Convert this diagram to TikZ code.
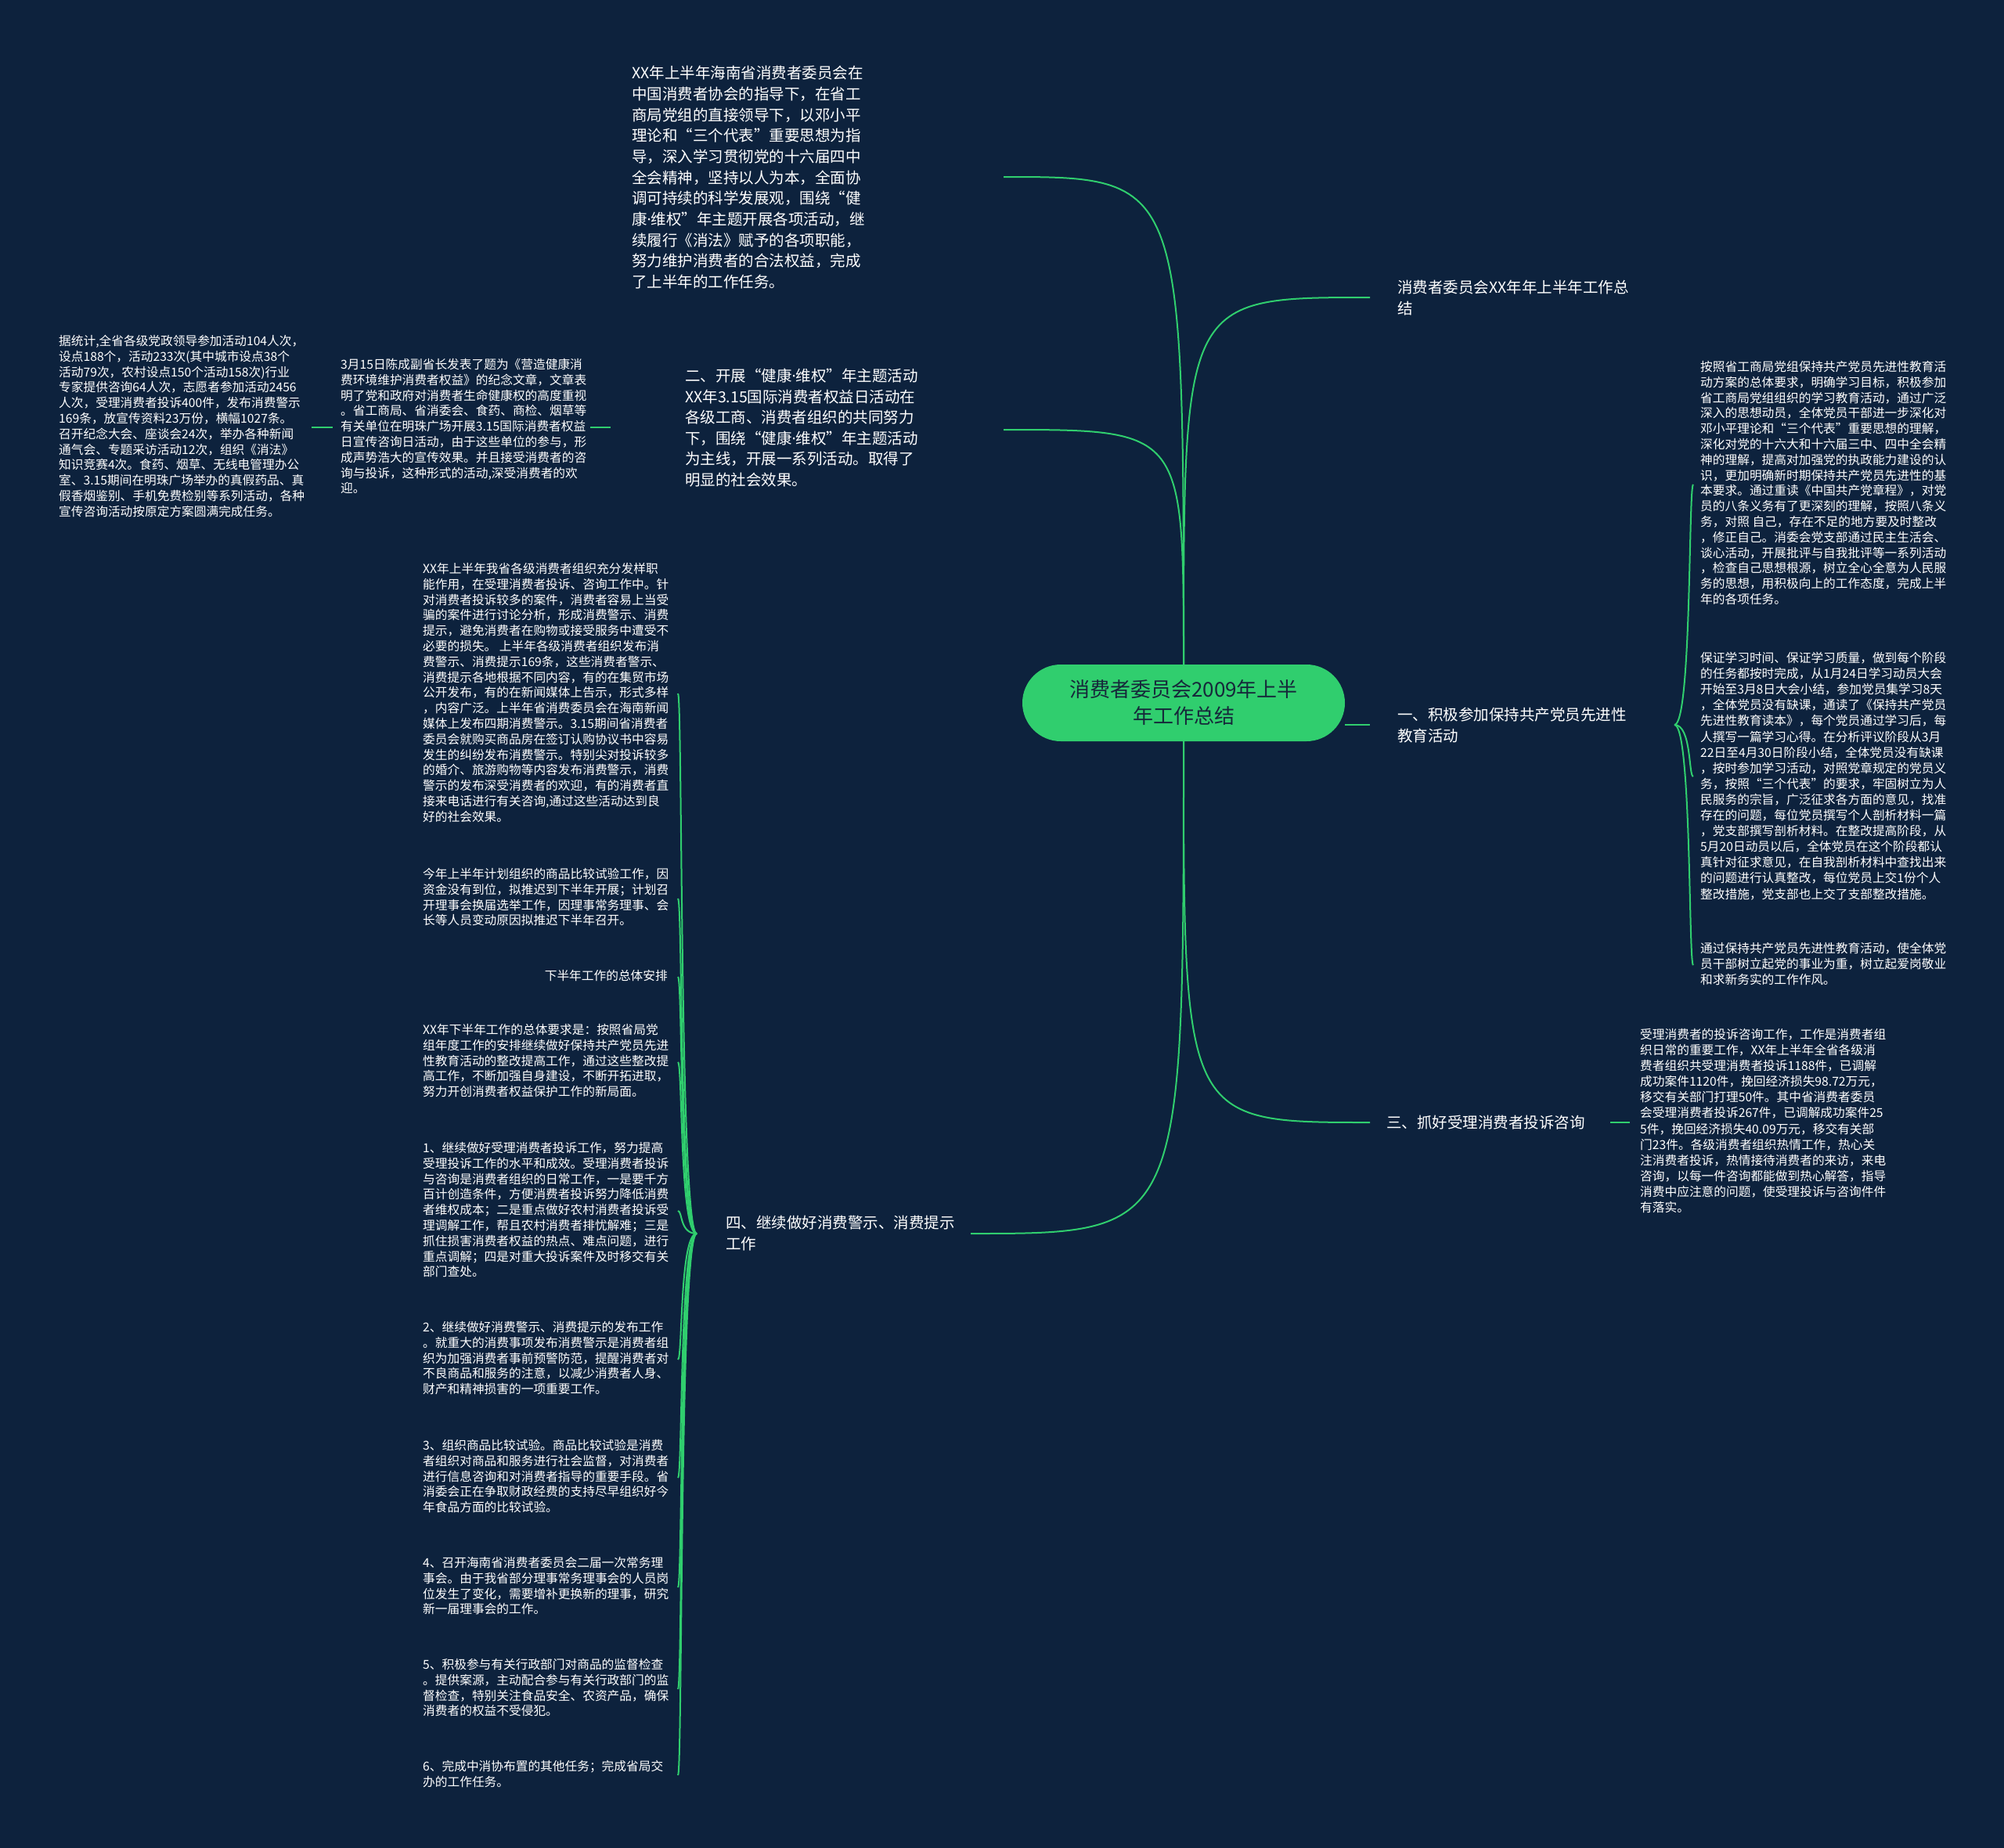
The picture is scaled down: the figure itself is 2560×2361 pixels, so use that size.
\documentclass[tikz,border=0pt]{standalone}
\usepackage{fontspec}
\setmainfont{Noto Sans CJK SC}
\newfontfamily\dotfont{Noto Sans}
\newcommand\mdot{{\dotfont ·}}
\usetikzlibrary{calc}
\definecolor{MapBg}{RGB}{13,34,61}
\definecolor{MapGreen}{RGB}{48,206,110}
\definecolor{RootInk}{RGB}{22,40,58}

\begin{document}
\begin{tikzpicture}[x=1pt,y=-1pt,
  root/.style={fill=MapGreen,rounded corners=49pt,minimum width=412pt,minimum height=98pt,inner sep=0pt,text=RootInk,align=center,font=\fontsize{26}{34}\selectfont},
  branch/.style={anchor=north west,inner sep=0pt,align=left,text=white,font=\fontsize{19.5}{26.5}\selectfont},
  leaf/.style={anchor=north west,inner sep=0pt,align=left,text=white,font=\fontsize{15.7}{19.8}\selectfont},
  link/.style={draw=MapGreen,line width=2pt}]
\fill[MapBg] (0,0) rectangle (2560,2361);
\useasboundingbox (0,0) rectangle (2560,2361);

\node[root] (root) at (1512,898) {消费者委员会2009年上半\\年工作总结};

% left side
\node[branch,font=\fontsize{19.5}{26.7}\selectfont] (intro) at (807,84) {XX年上半年海南省消费者委员会在\\中国消费者协会的指导下，在省工\\商局党组的直接领导下，以邓小平\\理论和“三个代表”重要思想为指\\导，深入学习贯彻党的十六届四中\\全会精神，坚持以人为本，全面协\\调可持续的科学发展观，围绕“健\\康\mdot 维权”年主题开展各项活动，继\\续履行《消法》赋予的各项职能，\\努力维护消费者的合法权益，完成\\了上半年的工作任务。};
\node[branch] (two) at (875,471) {二、开展“健康\mdot 维权”年主题活动\\XX年3.15国际消费者权益日活动在\\各级工商、消费者组织的共同努力\\下，围绕“健康\mdot 维权”年主题活动\\为主线，开展一系列活动。取得了\\明显的社会效果。};
\node[leaf] (two-a) at (435,458) {3月15日陈成副省长发表了题为《营造健康消\\费环境维护消费者权益》的纪念文章，文章表\\明了党和政府对消费者生命健康权的高度重视\\。省工商局、省消委会、食药、商检、烟草等\\有关单位在明珠广场开展3.15国际消费者权益\\日宣传咨询日活动，由于这些单位的参与，形\\成声势浩大的宣传效果。并且接受消费者的咨\\询与投诉，这种形式的活动,深受消费者的欢\\迎。};
\node[leaf] (two-b) at (75,428) {据统计,全省各级党政领导参加活动104人次，\\设点188个，活动233次(其中城市设点38个\\活动79次，农村设点150个活动158次)行业\\专家提供咨询64人次，志愿者参加活动2456\\人次，受理消费者投诉400件，发布消费警示\\169条，放宣传资料23万份，横幅1027条。\\召开纪念大会、座谈会24次，举办各种新闻\\通气会、专题采访活动12次，组织《消法》\\知识竞赛4次。食药、烟草、无线电管理办公\\室、3.15期间在明珠广场举办的真假药品、真\\假香烟鉴别、手机免费检别等系列活动，各种\\宣传咨询活动按原定方案圆满完成任务。};

\node[branch] (four) at (927,1553) {四、继续做好消费警示、消费提示\\工作};
\node[leaf] (w1) at (540,719) {XX年上半年我省各级消费者组织充分发样职\\能作用，在受理消费者投诉、咨询工作中。针\\对消费者投诉较多的案件，消费者容易上当受\\骗的案件进行讨论分析，形成消费警示、消费\\提示，避免消费者在购物或接受服务中遭受不\\必要的损失。 上半年各级消费者组织发布消\\费警示、消费提示169条，这些消费者警示、\\消费提示各地根据不同内容，有的在集贸市场\\公开发布，有的在新闻媒体上告示，形式多样\\，内容广泛。上半年省消费委员会在海南新闻\\媒体上发布四期消费警示。3.15期间省消费者\\委员会就购买商品房在签订认购协议书中容易\\发生的纠纷发布消费警示。特别尖对投诉较多\\的婚介、旅游购物等内容发布消费警示，消费\\警示的发布深受消费者的欢迎，有的消费者直\\接来电话进行有关咨询,通过这些活动达到良\\好的社会效果。};
\node[leaf] (w2) at (540,1109) {今年上半年计划组织的商品比较试验工作，因\\资金没有到位，拟推迟到下半年开展；计划召\\开理事会换届选举工作，因理事常务理事、会\\长等人员变动原因拟推迟下半年召开。};
\node[leaf,anchor=north east] (w3) at (853,1239) {下半年工作的总体安排};
\node[leaf] (w4) at (540,1308) {XX年下半年工作的总体要求是：按照省局党\\组年度工作的安排继续做好保持共产党员先进\\性教育活动的整改提高工作，通过这些整改提\\高工作，不断加强自身建设，不断开拓进取，\\努力开创消费者权益保护工作的新局面。};
\node[leaf] (w5) at (540,1459) {1、继续做好受理消费者投诉工作，努力提高\\受理投诉工作的水平和成效。受理消费者投诉\\与咨询是消费者组织的日常工作，一是要千方\\百计创造条件，方便消费者投诉努力降低消费\\者维权成本；二是重点做好农村消费者投诉受\\理调解工作，帮且农村消费者排忧解难；三是\\抓住损害消费者权益的热点、难点问题，进行\\重点调解；四是对重大投诉案件及时移交有关\\部门查处。};
\node[leaf] (w6) at (540,1688) {2、继续做好消费警示、消费提示的发布工作\\。就重大的消费事项发布消费警示是消费者组\\织为加强消费者事前预警防范，提醒消费者对\\不良商品和服务的注意，以减少消费者人身、\\财产和精神损害的一项重要工作。};
\node[leaf] (w7) at (540,1839) {3、组织商品比较试验。商品比较试验是消费\\者组织对商品和服务进行社会监督，对消费者\\进行信息咨询和对消费者指导的重要手段。省\\消委会正在争取财政经费的支持尽早组织好今\\年食品方面的比较试验。};
\node[leaf] (w8) at (540,1989) {4、召开海南省消费者委员会二届一次常务理\\事会。由于我省部分理事常务理事会的人员岗\\位发生了变化，需要增补更换新的理事，研究\\新一届理事会的工作。};
\node[leaf] (w9) at (540,2119) {5、积极参与有关行政部门对商品的监督检查\\。提供案源，主动配合参与有关行政部门的监\\督检查，特别关注食品安全、农资产品，确保\\消费者的权益不受侵犯。};
\node[leaf] (w10) at (540,2249) {6、完成中消协布置的其他任务；完成省局交\\办的工作任务。};

% right side
\node[branch] (summary) at (1785,358) {消费者委员会XX年年上半年工作总\\结};
\node[branch] (one) at (1785,904) {一、积极参加保持共产党员先进性\\教育活动};
\node[leaf] (one-a) at (2172,461) {按照省工商局党组保持共产党员先进性教育活\\动方案的总体要求，明确学习目标，积极参加\\省工商局党组组织的学习教育活动，通过广泛\\深入的思想动员，全体党员干部进一步深化对\\邓小平理论和“三个代表”重要思想的理解，\\深化对党的十六大和十六届三中、四中全会精\\神的理解，提高对加强党的执政能力建设的认\\识，更加明确新时期保持共产党员先进性的基\\本要求。通过重读《中国共产党章程》，对党\\员的八条义务有了更深刻的理解，按照八条义\\务，对照 自己，存在不足的地方要及时整改\\，修正自己。消委会党支部通过民主生活会、\\谈心活动，开展批评与自我批评等一系列活动\\，检查自己思想根源，树立全心全意为人民服\\务的思想，用积极向上的工作态度，完成上半\\年的各项任务。};
\node[leaf,font=\fontsize{15.7}{20.1}\selectfont] (one-b) at (2172,833) {保证学习时间、保证学习质量，做到每个阶段\\的任务都按时完成，从1月24日学习动员大会\\开始至3月8日大会小结，参加党员集学习8天\\，全体党员没有缺课，通读了《保持共产党员\\先进性教育读本》，每个党员通过学习后，每\\人撰写一篇学习心得。在分析评议阶段从3月\\22日至4月30日阶段小结，全体党员没有缺课\\，按时参加学习活动，对照党章规定的党员义\\务，按照“三个代表”的要求，牢固树立为人\\民服务的宗旨，广泛征求各方面的意见，找准\\存在的问题，每位党员撰写个人剖析材料一篇\\，党支部撰写剖析材料。在整改提高阶段，从\\5月20日动员以后，全体党员在这个阶段都认\\真针对征求意见，在自我剖析材料中查找出来\\的问题进行认真整改，每位党员上交1份个人\\整改措施，党支部也上交了支部整改措施。};
\node[leaf] (one-c) at (2172,1204) {通过保持共产党员先进性教育活动，使全体党\\员干部树立起党的事业为重，树立起爱岗敬业\\和求新务实的工作作风。};
\node[branch] (three) at (1771,1425) {三、抓好受理消费者投诉咨询};
\node[leaf,font=\fontsize{15.7}{20.1}\selectfont] (three-a) at (2095,1314) {受理消费者的投诉咨询工作，工作是消费者组\\织日常的重要工作，XX年上半年全省各级消\\费者组织共受理消费者投诉1188件，已调解\\成功案件1120件，挽回经济损失98.72万元，\\移交有关部门打理50件。其中省消费者委员\\会受理消费者投诉267件，已调解成功案件25\\5件，挽回经济损失40.09万元，移交有关部\\门23件。各级消费者组织热情工作，热心关\\注消费者投诉，热情接待消费者的来访，来电\\咨询，以每一件咨询都能做到热心解答，指导\\消费中应注意的问题，使受理投诉与咨询件件\\有落实。};

% attach points
\coordinate (intro-in) at (1282,226);
\coordinate (two-in) at (1282,549);
\coordinate (two-out) at (780,546);
\coordinate (two-a-in) at (754,546);
\coordinate (two-a-out) at (425,546);
\coordinate (two-b-in) at (398,546);
\coordinate (summary-in) at (1750,380);
\coordinate (one-in) at (1750,926);
\coordinate (root-r) at (1718,926);
\coordinate (one-out) at (2139,926);
\coordinate (three-in) at (1750,1434);
\coordinate (three-out) at (2057,1434);
\coordinate (three-a-in) at (2082,1434);
\coordinate (four-in) at (1240,1576);
\coordinate (four-out) at (890,1576);
\foreach \n/\yy in {1/886,2/1148,3/1248,4/1357,5/1547,6/1737,7/1888,8/2028,9/2158,10/2268}
  \coordinate (w\n-in) at (866,\yy);
\foreach \n/\yy in {a/619,b/992,c/1233}
  \coordinate (one-\n-in) at (2163,\yy);

\draw[link] (root.north) .. controls (root.north |- intro-in) .. (intro-in);
\draw[link] (root.north) .. controls (root.north |- two-in) .. (two-in);
\draw[link] (root.north) .. controls (root.north |- summary-in) .. (summary-in);
\draw[link] (root-r) -- (one-in);
\draw[link] (root.south) .. controls (root.south |- three-in) .. (three-in);
\draw[link] (root.south) .. controls (root.south |- four-in) .. (four-in);
\draw[link] (two-out) -- (two-a-in);
\draw[link] (two-a-out) -- (two-b-in);
\draw[link] (three-out) -- (three-a-in);
\foreach \n in {1,...,10}
  \draw[link] (four-out) .. controls +(-22,0) and +(6,0) .. (w\n-in);
\foreach \n in {a,b,c}
  \draw[link] (one-out) .. controls +(22,0) and +(-6,0) .. (one-\n-in);
\end{tikzpicture}
\end{document}
